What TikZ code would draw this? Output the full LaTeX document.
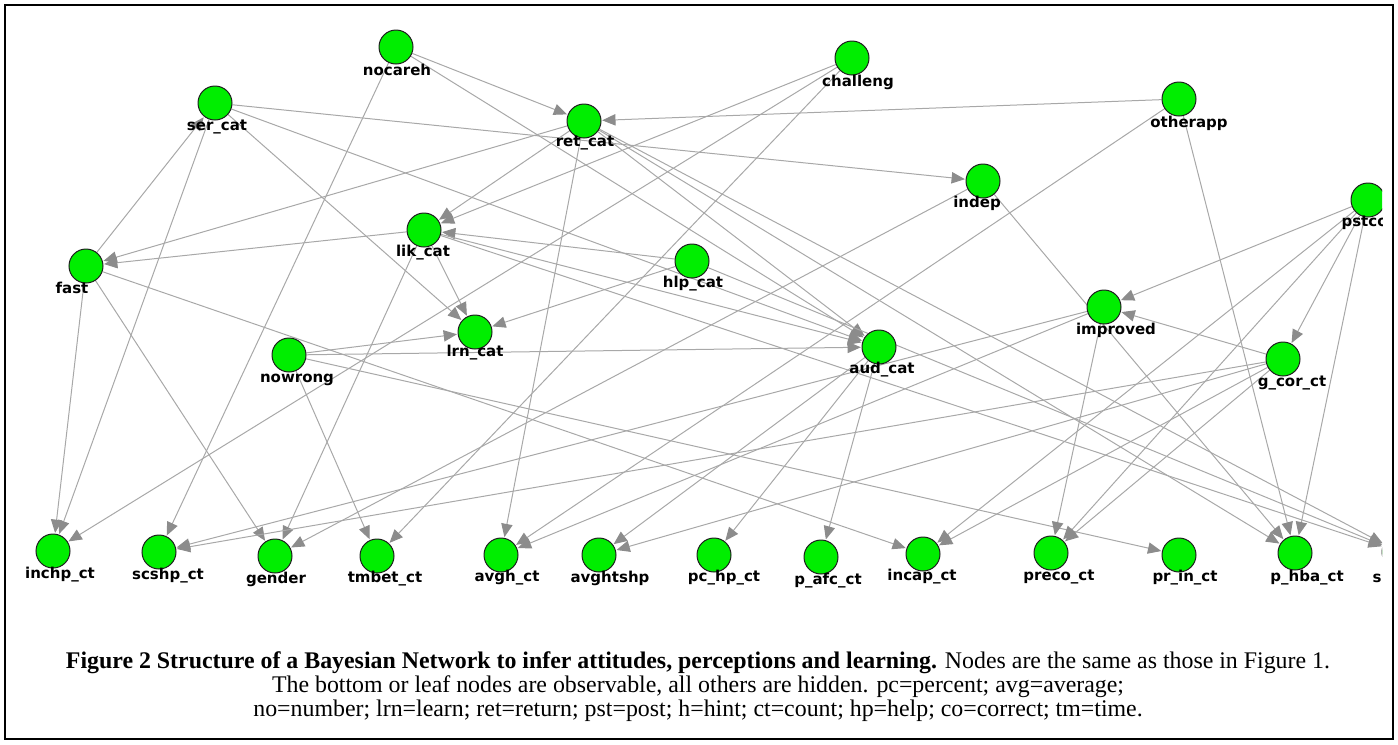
\documentclass[tikz,border=0pt]{standalone}
\usepackage{fontspec}
\setmainfont{Liberation Serif}
\newfontfamily\netfont{DejaVu Sans}
\usetikzlibrary{arrows.meta,backgrounds}
\definecolor{nodegreen}{RGB}{0,238,0}
\definecolor{edgegray}{RGB}{168,168,168}
\definecolor{tipgray}{RGB}{140,140,140}
\tikzset{every picture/.style={line width=0.75pt}}
\tikzset{
  bnode/.style={circle,draw={rgb,255:red,30;green,30;blue,30},line width=0.75pt,fill=nodegreen,minimum size=25.5pt,inner sep=0pt},
  bname/.style={inner sep=0.75pt,font=\netfont\bfseries\fontsize{11.25}{13}\selectfont},
  link/.style={draw=edgegray,line width=0.75pt,-{Triangle[length=10pt,width=8.5pt,color=tipgray]},shorten >=0.5pt},
  captext/.style={inner sep=0pt,font=\fontsize{17.9}{20}\selectfont}
}

\begin{document}
\begin{tikzpicture}[x=0.75pt,y=0.75pt,yscale=-1,xscale=1]
\useasboundingbox (0,0) rectangle (1398,744);

%Shape: Circles (hidden nodes)
\begin{scope}
\clip (6,7) rectangle (1382,600);
\node [bnode] (nocareh) at (396,47) {};
\node [bnode] (challeng) at (852,58) {};
\node [bnode] (ser_cat) at (215,103) {};
\node [bnode] (ret_cat) at (584,121) {};
\node [bnode] (otherapp) at (1179,99) {};
\node [bnode] (indep) at (983,181) {};
\node [bnode] (pstco) at (1368,200) {};
\node [bnode] (lik_cat) at (424,230) {};
\node [bnode] (fast) at (86,266) {};
\node [bnode] (hlp_cat) at (692,261) {};
\node [bnode] (improved) at (1104,307) {};
\node [bnode] (lrn_cat) at (475,332) {};
\node [bnode] (nowrong) at (289,355) {};
\node [bnode] (aud_cat) at (879,347) {};
\node [bnode] (g_cor_ct) at (1283,359) {};
%Shape: Circles (leaf nodes)
\node [bnode] (inchp_ct) at (53,551) {};
\node [bnode] (scshp_ct) at (159,552) {};
\node [bnode] (gender) at (275,556) {};
\node [bnode] (tmbet_ct) at (377,556) {};
\node [bnode] (avgh_ct) at (501,555) {};
\node [bnode] (avghtshp) at (599,555) {};
\node [bnode] (pc_hp_ct) at (714,555) {};
\node [bnode] (p_afc_ct) at (821,557) {};
\node [bnode] (incap_ct) at (923,554) {};
\node [bnode] (preco_ct) at (1051,553) {};
\node [bnode] (pr_in_ct) at (1179,555) {};
\node [bnode] (p_hba_ct) at (1295,553) {};
\node [bnode] (s_ct) at (1399,552) {};

% Text Node
\draw (397,70) node [bname] (nocareh-t) {nocareh};
\draw (858,82) node [bname] (challeng-t) {challeng};
\draw (217,127) node [bname] (ser_cat-t) {ser\_cat};
\draw (585,143) node [bname] (ret_cat-t) {ret\_cat};
\draw (1189,123) node [bname] (otherapp-t) {otherapp};
\draw (977,203) node [bname] (indep-t) {indep};
\draw (1340,223) node [bname,anchor=west] (pstco-t) {pstco};
\draw (423,253) node [bname] (lik_cat-t) {lik\_cat};
\draw (72,288) node [bname] (fast-t) {fast};
\draw (693,284) node [bname] (hlp_cat-t) {hlp\_cat};
\draw (1116,330) node [bname] (improved-t) {improved};
\draw (475,353) node [bname] (lrn_cat-t) {lrn\_cat};
\draw (297,380) node [bname] (nowrong-t) {nowrong};
\draw (882,370) node [bname] (aud_cat-t) {aud\_cat};
\draw (1292,383) node [bname] (g_cor_ct-t) {g\_cor\_ct};
% Text Node
\draw (60,575) node [bname] (inchp_ct-t) {inchp\_ct};
\draw (168,576) node [bname] (scshp_ct-t) {scshp\_ct};
\draw (276,579) node [bname] (gender-t) {gender};
\draw (385,579) node [bname] (tmbet_ct-t) {tmbet\_ct};
\draw (507,578) node [bname] (avgh_ct-t) {avgh\_ct};
\draw (610,578) node [bname] (avghtshp-t) {avghtshp};
\draw (724,578) node [bname] (pc_hp_ct-t) {pc\_hp\_ct};
\draw (828,581) node [bname] (p_afc_ct-t) {p\_afc\_ct};
\draw (922,577) node [bname] (incap_ct-t) {incap\_ct};
\draw (1059,577) node [bname] (preco_ct-t) {preco\_ct};
\draw (1185,578) node [bname] (pr_in_ct-t) {pr\_in\_ct};
\draw (1307,578) node [bname] (p_hba_ct-t) {p\_hba\_ct};
\draw (1377,578) node [bname] (s_ct-t) {s};
\end{scope}

%Straight Lines
\begin{scope}[on background layer]
\clip (6,7) rectangle (1382,600);
\draw [link] (nocareh) -- (ret_cat);
\draw [link] (nocareh) -- (aud_cat);
\draw [link] (nocareh) -- (scshp_ct);
\draw [link] (ser_cat) -- (indep);
\draw [link] (ser_cat) -- (aud_cat);
\draw [link] (ser_cat) -- (lrn_cat);
\draw [link] (ser_cat) -- (inchp_ct);
\draw [link] (fast) -- (ser_cat);
\draw [link] (fast) -- (inchp_ct);
\draw [link] (fast) -- (gender);
\draw [link] (fast) -- (incap_ct);
\draw [link] (ret_cat) -- (fast);
\draw [link] (ret_cat) -- (lik_cat);
\draw [link] (ret_cat) -- (aud_cat);
\draw [link] (ret_cat) -- (avgh_ct);
\draw [link] (ret_cat) -- (p_hba_ct);
\draw [link] (ret_cat) -- (s_ct);
\draw [link] (challeng) -- (lik_cat);
\draw [link] (challeng) -- (inchp_ct);
\draw [link] (challeng) -- (tmbet_ct);
\draw [link] (otherapp) -- (ret_cat);
\draw [link] (otherapp) -- (avgh_ct);
\draw [link] (otherapp) -- (p_hba_ct);
\draw [link] (indep) -- (gender);
\draw [link] (indep) -- (p_hba_ct);
\draw [link] (hlp_cat) -- (lik_cat);
\draw [link] (hlp_cat) -- (lrn_cat);
\draw [link] (hlp_cat) -- (s_ct);
\draw [link] (lik_cat) -- (fast);
\draw [link] (lik_cat) -- (lrn_cat);
\draw [link] (lik_cat) -- (aud_cat);
\draw [link] (lik_cat) -- (gender);
\draw [link] (lik_cat) -- (s_ct);
\draw [link] (nowrong) -- (lrn_cat);
\draw [link] (nowrong) -- (aud_cat);
\draw [link] (nowrong) -- (tmbet_ct);
\draw [link] (nowrong) -- (pr_in_ct);
\draw [link] (aud_cat) -- (avghtshp);
\draw [link] (aud_cat) -- (pc_hp_ct);
\draw [link] (aud_cat) -- (p_afc_ct);
\draw [link] (pstco) -- (improved);
\draw [link] (pstco) -- (g_cor_ct);
\draw [link] (pstco) -- (incap_ct);
\draw [link] (pstco) -- (preco_ct);
\draw [link] (pstco) -- (p_hba_ct);
\draw [link] (g_cor_ct) -- (improved);
\draw [link] (g_cor_ct) -- (scshp_ct);
\draw [link] (g_cor_ct) -- (avghtshp);
\draw [link] (g_cor_ct) -- (incap_ct);
\draw [link] (g_cor_ct) -- (preco_ct);
\draw [link] (improved) -- (scshp_ct);
\draw [link] (improved) -- (avgh_ct);
\draw [link] (improved) -- (preco_ct);
\end{scope}

%Shape: Rectangle
\draw [line width=1.5] (4.5,5) rectangle (1392.5,739);

% Text Node
\draw (698,663) node [captext] (cap1) {\textbf{Figure 2 Structure of a Bayesian Network to infer attitudes, perceptions and learning.} Nodes are the same as those in Figure 1.};
\draw (698,687) node [captext] (cap2) {The bottom or leaf nodes are observable, all others are hidden. pc=percent; avg=average;};
\draw (698,711) node [captext] (cap3) {no=number; lrn=learn; ret=return; pst=post; h=hint; ct=count; hp=help; co=correct; tm=time.};

\end{tikzpicture}
\end{document}
